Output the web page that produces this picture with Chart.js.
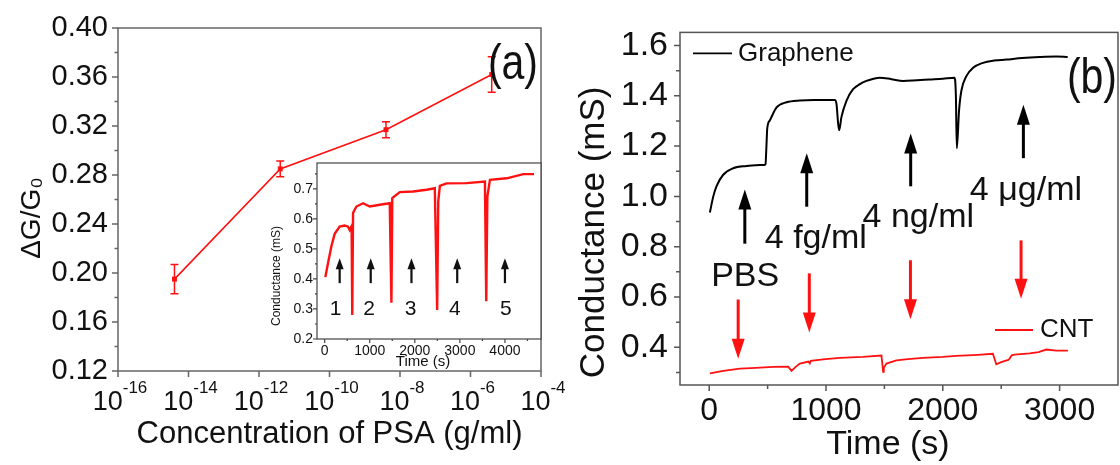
<!DOCTYPE html>
<html><head><meta charset="utf-8">
<script src="https://cdn.jsdelivr.net/npm/chart.js@4/dist/chart.umd.min.js"></script>
<style>
html,body{margin:0;padding:0;background:#fff;}
body{width:1120px;height:465px;overflow:hidden;position:relative;}
canvas{position:absolute;}
</style></head>
<body>
<canvas id="ca" width="580" height="465" style="left:0;top:0"></canvas>
<canvas id="cb" width="560" height="465" style="left:560px;top:0"></canvas>
<canvas id="ci" width="310" height="240" style="left:250px;top:150px"></canvas>
<script>
// ---------------- data: panel (a) ----------------
const psaConcentration = [4e-15, 4e-12, 4e-9, 4e-6];
const responseRatio    = [0.195, 0.285, 0.317, 0.362];
const responseError    = [0.012, 0.0065, 0.0065, 0.0145];
const psaTickExponents = [-16, -14, -12, -10, -8, -6, -4];
const ratioTicks       = [0.12, 0.16, 0.20, 0.24, 0.28, 0.32, 0.36, 0.40];
const ratioMinorTicks  = [0.14, 0.18, 0.22, 0.26, 0.30, 0.34, 0.38];

// ---------------- data: inset ----------------
const insetTime = [15, 74, 148, 222, 333, 444, 519, 556, 598, 612, 630, 704, 852, 1000, 1222, 1444, 1481, 1500, 1667, 1963,
                   2259, 2444, 2496, 2520, 2556, 2704, 3148, 3556, 3585, 3610, 3667, 4037, 4407, 4644];
const insetConductance = [0.406, 0.452, 0.508, 0.55, 0.574, 0.578, 0.574, 0.563, 0.576, 0.28, 0.62, 0.641, 0.652, 0.641, 0.647, 0.652, 0.321, 0.669, 0.689, 0.691,
                   0.697, 0.702, 0.297, 0.658, 0.71, 0.718, 0.719, 0.724, 0.326, 0.674, 0.73, 0.735, 0.749, 0.749];
const insetTimeTicks = [0, 1000, 2000, 3000, 4000];
const insetTimeMinor = [500, 1500, 2500, 3500, 4500];
const insetCondTicks = [0.2, 0.3, 0.4, 0.5, 0.6, 0.7];
const insetCondMinor = [0.25, 0.35, 0.45, 0.55, 0.65, 0.75];
const insetArrowTime = [333, 1022, 1926, 2941, 4000];
const insetArrowFrom = [0.386, 0.386, 0.386, 0.386, 0.386];
const insetArrowTo   = [0.469, 0.469, 0.469, 0.469, 0.469];
const insetStepLabels = ['1', '2', '3', '4', '5'];
const insetStepTime   = [244, 985, 1904, 2889, 4022];
const insetStepLevel  = [0.28, 0.28, 0.28, 0.28, 0.28];

// ---------------- data: panel (b) ----------------
const grapheneTime = [6, 35, 63, 120, 205, 320, 400, 470, 482, 490, 497, 519, 577, 662, 776, 900, 1075, 1090, 1104, 1113,
                      1132, 1175, 1232, 1290, 1346, 1400, 1460, 1560, 1660, 1780, 1888, 2000, 2100, 2112, 2120, 2139, 2159, 2202, 2259, 2344,
                      2440, 2544, 2680, 2829, 2972, 3069];
const grapheneConductance = [0.936, 1.0, 1.041, 1.086, 1.112, 1.121, 1.124, 1.125, 1.128, 1.2, 1.27, 1.302, 1.354, 1.374, 1.381, 1.383, 1.383, 1.367, 1.289, 1.263,
                      1.315, 1.380, 1.426, 1.446, 1.459, 1.467, 1.472, 1.466, 1.459, 1.462, 1.465, 1.468, 1.472, 1.40, 1.191, 1.341, 1.420, 1.478, 1.511, 1.531,
                      1.540, 1.544, 1.550, 1.554, 1.556, 1.554];
const cntTime = [6, 120, 263, 400, 548, 676, 705, 740, 776, 850, 861, 870, 975, 1118, 1317, 1475, 1489, 1495, 1517, 1603,
                 1700, 1831, 2000, 2116, 2300, 2429, 2458, 2500, 2560, 2572, 2590, 2615, 2743, 2820, 2886, 2972, 3071];
const cntConductance = [0.296, 0.306, 0.315, 0.318, 0.322, 0.323, 0.306, 0.322, 0.335, 0.343, 0.336, 0.346, 0.352, 0.358, 0.362, 0.367, 0.302, 0.318, 0.335, 0.348,
                 0.353, 0.358, 0.362, 0.366, 0.370, 0.374, 0.332, 0.341, 0.350, 0.355, 0.368, 0.371, 0.376, 0.381, 0.391, 0.387, 0.387];
const timeTicks = [0, 1000, 2000, 3000];
const timeMinor = [500, 1500, 2500];
const condTicks = [0.4, 0.6, 0.8, 1.0, 1.2, 1.4, 1.6];
const condMinor = [0.3, 0.5, 0.7, 0.9, 1.1, 1.3, 1.5];
const additionLabels = ['PBS', '4 fg/ml', '4 ng/ml', '4 μg/ml'];
const additionLabelTime  = [308, 913, 1790, 2712];
const additionLabelLevel = [0.645, 0.795, 0.88, 0.984];
const grapheneArrowTime = [305, 835, 1725, 2690];
const grapheneArrowFrom = [0.812, 0.959, 1.04, 1.152];
const grapheneArrowTo   = [1.027, 1.171, 1.25, 1.364];
const cntArrowTime = [248, 857, 1723, 2670];
const cntArrowFrom = [0.59, 0.694, 0.746, 0.825];
const cntArrowTo   = [0.354, 0.459, 0.511, 0.593];

// ---------------- helpers ----------------
const FONT = "'Liberation Sans', Arial, Helvetica, sans-serif";
const RED = '#ff1111';
Chart.defaults.font.family = FONT;
Chart.defaults.color = '#111';

function txt(ctx, s, x, y, size, o = {}) {
  ctx.save();
  ctx.font = size + 'px ' + FONT;
  ctx.fillStyle = o.color || '#111';
  ctx.textAlign = o.align || 'center';
  ctx.textBaseline = o.baseline || 'middle';
  ctx.translate(x, y);
  if (o.rotate) ctx.rotate(o.rotate);
  if (o.sx) ctx.scale(o.sx, 1);
  ctx.fillText(s, 0, 0);
  ctx.restore();
}
function arrow(ctx, x, yTail, yTip, color, shaft, headW, headL) {
  const d = Math.sign(yTip - yTail);
  ctx.save();
  ctx.strokeStyle = color; ctx.fillStyle = color; ctx.lineWidth = shaft;
  ctx.beginPath(); ctx.moveTo(x, yTail); ctx.lineTo(x, yTip - d * headL * 0.7); ctx.stroke();
  ctx.beginPath(); ctx.moveTo(x, yTip); ctx.lineTo(x - headW / 2, yTip - d * headL); ctx.lineTo(x + headW / 2, yTip - d * headL);
  ctx.closePath(); ctx.fill();
  ctx.restore();
}
function hline(ctx, x0, x1, y, color, w) {
  ctx.save(); ctx.strokeStyle = color; ctx.lineWidth = w;
  ctx.beginPath(); ctx.moveTo(x0, y); ctx.lineTo(x1, y); ctx.stroke(); ctx.restore();
}

const framePlugin = {
  id: 'frame',
  beforeDatasetsDraw(chart, args, o) {
    if (o.fill) {
      const a = chart.chartArea, c = chart.ctx;
      c.save(); c.fillStyle = o.fill; c.fillRect(a.left, a.top, a.right - a.left, a.bottom - a.top); c.restore();
    }
  },
  afterDraw(chart, args, o) {
    const { ctx, chartArea: a } = chart, x = chart.scales.x, y = chart.scales.y;
    ctx.save();
    ctx.strokeStyle = o.color; ctx.lineWidth = o.width;
    ctx.strokeRect(a.left, a.top, a.right - a.left, a.bottom - a.top);
    ctx.beginPath();
    const tx = (v, len) => { const p = x.getPixelForValue(v); ctx.moveTo(p, a.bottom); ctx.lineTo(p, a.bottom + len); };
    const ty = (v, len) => { const p = y.getPixelForValue(v); ctx.moveTo(a.left, p); ctx.lineTo(a.left - len, p); };
    x.ticks.forEach(t => tx(t.value, o.major));
    y.ticks.forEach(t => ty(t.value, o.major));
    (o.xMinor || []).forEach(v => tx(v, o.minor));
    (o.yMinor || []).forEach(v => ty(v, o.minor));
    ctx.stroke();
    ctx.restore();
  }
};

const hidden = { display: false, drawTicks: false };
const noBorder = { display: false };

// ---------------- panel (a) ----------------
const panelAPlugin = {
  id: 'panelA',
  afterDatasetsDraw(chart) {
    const { ctx } = chart, x = chart.scales.x, y = chart.scales.y;
    ctx.save(); ctx.strokeStyle = RED; ctx.lineWidth = 1.5;
    psaConcentration.forEach((c, i) => {
      const px = x.getPixelForValue(c);
      const y0 = y.getPixelForValue(responseRatio[i] - responseError[i]);
      const y1 = y.getPixelForValue(responseRatio[i] + responseError[i]);
      ctx.beginPath();
      ctx.moveTo(px, y0); ctx.lineTo(px, y1);
      ctx.moveTo(px - 4, y0); ctx.lineTo(px + 4, y0);
      ctx.moveTo(px - 4, y1); ctx.lineTo(px + 4, y1);
      ctx.stroke();
    });
    ctx.restore();
  },
  afterDraw(chart) {
    const { ctx, chartArea: a } = chart, x = chart.scales.x;
    psaTickExponents.forEach(e => {
      const px = x.getPixelForValue(Math.pow(10, e));
      ctx.save();
      ctx.font = '27px ' + FONT; const wb = ctx.measureText('10').width;
      ctx.font = '17px ' + FONT; const sup = '-' + Math.abs(e); const ws = ctx.measureText(sup).width;
      const x0 = px - (wb + ws) / 2 + 2;
      ctx.fillStyle = '#111'; ctx.textAlign = 'left'; ctx.textBaseline = 'alphabetic';
      ctx.font = '27px ' + FONT; ctx.fillText('10', x0, a.bottom + 39);
      ctx.font = '17px ' + FONT; ctx.fillText(sup, x0 + wb, a.bottom + 22);
      ctx.restore();
    });
    txt(ctx, 'Concentration of PSA (g/ml)', (a.left + a.right) / 2, a.bottom + 72, 31, { baseline: 'alphabetic' });
    txt(ctx, 'ΔG/G₀', a.left - 86, a.top + 190, 28, { rotate: -Math.PI / 2 });
    txt(ctx, '(a)', a.right - 3, a.top + 37, 50, { align: 'right', sx: 0.82 });
  }
};

new Chart(document.getElementById('ca'), {
  type: 'line',
  data: { datasets: [{
    data: psaConcentration.map((c, i) => ({ x: c, y: responseRatio[i] })),
    borderColor: RED, backgroundColor: RED, borderWidth: 1.6,
    pointStyle: 'rect', pointRadius: 3.5, pointBorderWidth: 0, tension: 0
  }] },
  options: {
    responsive: false, animation: false, devicePixelRatio: 1,
    layout: { padding: { left: 0, top: 28, right: 39, bottom: 0 } },
    plugins: { legend: { display: false }, tooltip: { enabled: false },
      frame: { color: '#666', width: 1.5, major: 6, minor: 3.5, yMinor: ratioMinorTicks } },
    scales: {
      x: { type: 'logarithmic', min: 1e-16, max: 1e-4, grid: hidden, border: noBorder, ticks: { display: false },
           afterBuildTicks: s => { s.ticks = psaTickExponents.map(e => ({ value: Math.pow(10, e) })); },
           afterFit: s => { s.height = 94; } },
      y: { min: 0.12, max: 0.40, grid: hidden, border: noBorder,
           ticks: { font: { size: 29 }, padding: 10, callback: v => v.toFixed(2) },
           afterBuildTicks: s => { s.ticks = ratioTicks.map(v => ({ value: v })); },
           afterFit: s => { s.width = 118; } }
    }
  },
  plugins: [framePlugin, panelAPlugin]
});

// ---------------- inset ----------------
const insetPlugin = {
  id: 'insetDeco',
  afterDraw(chart) {
    const { ctx, chartArea: a } = chart, x = chart.scales.x, y = chart.scales.y;
    insetArrowTime.forEach((t, i) => {
      arrow(ctx, x.getPixelForValue(t), y.getPixelForValue(insetArrowFrom[i]), y.getPixelForValue(insetArrowTo[i]), '#111', 2.2, 8, 11);
    });
    insetStepLabels.forEach((s, i) => {
      txt(ctx, s, x.getPixelForValue(insetStepTime[i]), y.getPixelForValue(insetStepLevel[i]), 21, { baseline: 'alphabetic' });
    });
    txt(ctx, 'Conductance (mS)', a.left - 40, a.top + 113, 12, { rotate: -Math.PI / 2 });
    txt(ctx, 'Time (s)', (a.left + a.right) / 2 - 6, a.bottom + 23, 15);
  }
};
new Chart(document.getElementById('ci'), {
  type: 'line',
  data: { datasets: [{
    data: insetTime.map((t, i) => ({ x: t, y: insetConductance[i] })),
    borderColor: RED, borderWidth: 2.4, pointRadius: 0, tension: 0
  }] },
  options: {
    responsive: false, animation: false, devicePixelRatio: 1,
    layout: { padding: { left: 0, top: 13, right: 19, bottom: 0 } },
    plugins: { legend: { display: false }, tooltip: { enabled: false },
      frame: { color: '#444', width: 1.2, major: 4, minor: 2, xMinor: insetTimeMinor, yMinor: insetCondMinor, fill: '#fff' } },
    scales: {
      x: { type: 'linear', min: -170, max: 4800, grid: hidden, border: noBorder,
           ticks: { font: { size: 14 }, padding: 4, maxRotation: 0, callback: v => String(v) },
           afterBuildTicks: s => { s.ticks = insetTimeTicks.map(v => ({ value: v })); },
           afterFit: s => { s.height = 51; } },
      y: { min: 0.2, max: 0.786, grid: hidden, border: noBorder,
           ticks: { font: { size: 14 }, padding: 4, callback: v => v.toFixed(1) },
           afterBuildTicks: s => { s.ticks = insetCondTicks.map(v => ({ value: v })); },
           afterFit: s => { s.width = 67; } }
    }
  },
  plugins: [framePlugin, insetPlugin]
});

// ---------------- panel (b) ----------------
const panelBPlugin = {
  id: 'panelB',
  afterDraw(chart) {
    const { ctx, chartArea: a } = chart, x = chart.scales.x, y = chart.scales.y;
    grapheneArrowTime.forEach((t, i) => {
      arrow(ctx, x.getPixelForValue(t), y.getPixelForValue(grapheneArrowFrom[i]), y.getPixelForValue(grapheneArrowTo[i]), '#000', 3, 13, 20);
    });
    cntArrowTime.forEach((t, i) => {
      arrow(ctx, x.getPixelForValue(t), y.getPixelForValue(cntArrowFrom[i]), y.getPixelForValue(cntArrowTo[i]), RED, 3, 13, 20);
    });
    additionLabels.forEach((s, i) => {
      txt(ctx, s, x.getPixelForValue(additionLabelTime[i]), y.getPixelForValue(additionLabelLevel[i]), 34, { baseline: 'alphabetic' });
    });
    hline(ctx, a.left + 13, a.left + 52, a.top + 21, '#000', 1.8);
    txt(ctx, 'Graphene', a.left + 58, a.top + 21, 26, { align: 'left' });
    hline(ctx, a.right - 123, a.right - 85, a.bottom - 55, RED, 1.8);
    txt(ctx, 'CNT', a.right - 78, a.bottom - 55, 26, { align: 'left' });
    txt(ctx, 'Conductance (mS)', a.left - 86, a.top + 200, 35, { rotate: -Math.PI / 2 });
    txt(ctx, 'Time (s)', (a.left + a.right) / 2 - 11, a.bottom + 60, 34);
    txt(ctx, '(b)', a.right - 1, a.top + 47, 50, { align: 'right', sx: 0.82 });
  }
};
new Chart(document.getElementById('cb'), {
  type: 'line',
  data: { datasets: [
    { label: 'Graphene', data: grapheneTime.map((t, i) => ({ x: t, y: grapheneConductance[i] })),
      borderColor: '#000', borderWidth: 2, pointRadius: 0, cubicInterpolationMode: 'monotone' },
    { label: 'CNT', data: cntTime.map((t, i) => ({ x: t, y: cntConductance[i] })),
      borderColor: RED, borderWidth: 1.8, pointRadius: 0, tension: 0 }
  ] },
  options: {
    responsive: false, animation: false, devicePixelRatio: 1,
    layout: { padding: { left: 0, top: 27, right: 2, bottom: 0 } },
    plugins: { legend: { display: false }, tooltip: { enabled: false },
      frame: { color: '#555', width: 1.5, major: 6, minor: 4, xMinor: timeMinor, yMinor: condMinor } },
    scales: {
      x: { type: 'linear', min: -250, max: 3500, grid: hidden, border: noBorder,
           ticks: { font: { size: 32 }, padding: 7, maxRotation: 0, callback: v => String(v) },
           afterBuildTicks: s => { s.ticks = timeTicks.map(v => ({ value: v })); },
           afterFit: s => { s.height = 80; } },
      y: { min: 0.25, max: 1.652, grid: hidden, border: noBorder,
           ticks: { font: { size: 34 }, padding: 12, callback: v => v.toFixed(1) },
           afterBuildTicks: s => { s.ticks = condTicks.map(v => ({ value: v })); },
           afterFit: s => { s.width = 120; } }
    }
  },
  plugins: [framePlugin, panelBPlugin]
});
</script>
</body></html>
